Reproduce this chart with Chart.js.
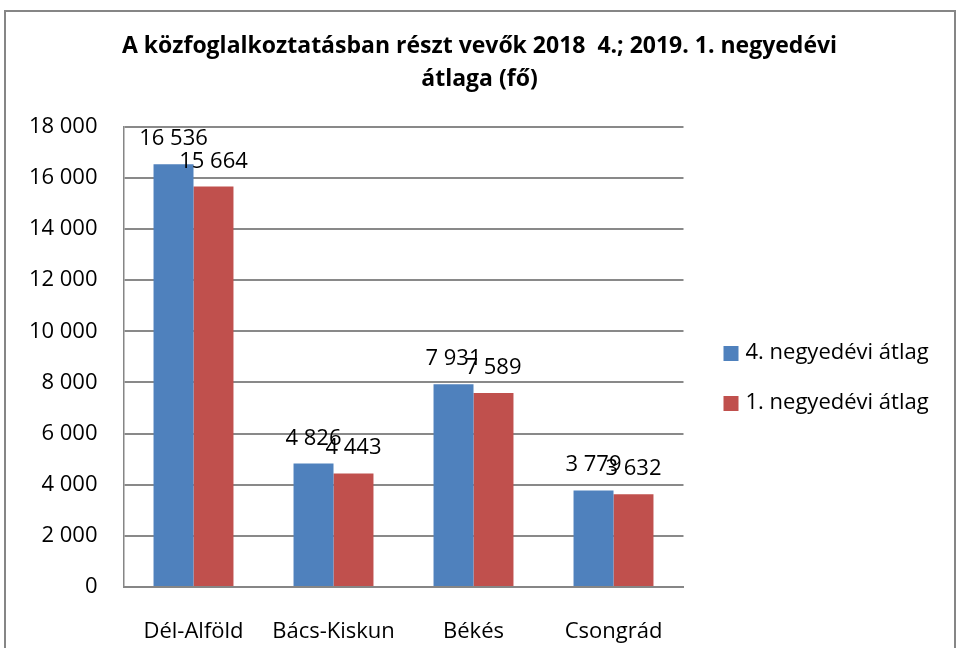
<!DOCTYPE html>
<html>
<head>
<meta charset="utf-8">
<script src="https://cdn.jsdelivr.net/npm/chart.js@4/dist/chart.umd.min.js"></script>
<style>
  body { margin: 0; background: #fff; }
  canvas { display: block; }
</style>
</head>
<body>
<canvas id="chart" width="959" height="648"></canvas>
<script>
const categories = ['Dél-Alföld', 'Bács-Kiskun', 'Békés', 'Csongrád'];
const q4Values = [16536, 4826, 7931, 3779];
const q1Values = [15664, 4443, 7589, 3632];
const seriesNames = ['4. negyedévi átlag', '1. negyedévi átlag'];
const titleLines = ['A közfoglalkoztatásban részt vevők 2018  4.; 2019. 1. negyedévi', 'átlaga (fő)'];

// 12345 -> "12 345"
function fmt(v){
  return String(v).replace(/\B(?=(\d{3})+(?!\d))/g, ' ');
}

const frame = {
  id: 'frame',
  beforeDraw(chart){
    const ctx = chart.ctx;
    ctx.save();
    ctx.strokeStyle = '#868686';
    ctx.lineWidth = 2;
    ctx.strokeRect(5, 11, 950, 640);
    ctx.restore();
  }
};

// value labels above each bar
const barLabels = {
  id: 'barLabels',
  afterDatasetsDraw(chart){
    const ctx = chart.ctx;
    ctx.save();
    ctx.font = '22px "Open Sans"';
    ctx.fillStyle = '#000';
    ctx.textAlign = 'center';
    ctx.textBaseline = 'alphabetic';
    chart.data.datasets.forEach((ds, i) => {
      chart.getDatasetMeta(i).data.forEach((bar, j) => {
        ctx.fillText(fmt(ds.data[j]), bar.x, bar.y - 19);
      });
    });
    ctx.restore();
  }
};

// legend on the right, drawn by hand so it sits where excel put it
const sideLegend = {
  id: 'sideLegend',
  afterDraw(chart){
    const ctx = chart.ctx;
    const x = chart.chartArea.right + 40;
    ctx.save();
    ctx.font = '22px "Open Sans"';
    ctx.textBaseline = 'middle';
    ctx.textAlign = 'left';
    chart.data.datasets.forEach((ds, i) => {
      const y = 353 + i * 50;
      ctx.fillStyle = ds.backgroundColor;
      ctx.fillRect(x, y - 7, 15, 15);
      ctx.fillStyle = '#000';
      ctx.fillText(ds.label, x + 22, y);
    });
    ctx.restore();
  }
};

new Chart(document.getElementById('chart'), {
  type: 'bar',
  data: {
    labels: categories,
    datasets: [
      { label: seriesNames[0], data: q4Values, backgroundColor: '#4F81BD' },
      { label: seriesNames[1], data: q1Values, backgroundColor: '#C0504D' }
    ]
  },
  options: {
    responsive: false,
    animation: false,
    categoryPercentage: 0.571,
    barPercentage: 1,
    layout: { padding: { top: 10, left: 0, right: 0, bottom: 0 } },
    plugins: {
      title: {
        display: true,
        text: titleLines,
        color: '#000',
        font: { family: 'Open Sans', size: 23, weight: 'bold', lineHeight: 1.43 },
        padding: { top: 20, bottom: 31 }
      },
      legend: { display: false },
      tooltip: { enabled: false }
    },
    scales: {
      x: {
        grid: { display: false },
        border: { display: true, color: '#868686', width: 2 },
        ticks: { color: '#000', font: { family: 'Open Sans', size: 22 }, padding: 24 },
        afterFit(scale){ scale.height = 61; }
      },
      y: {
        min: 0,
        max: 18000,
        ticks: {
          stepSize: 2000,
          color: '#000',
          font: { family: 'Open Sans', size: 22 },
          padding: 26,
          callback: v => fmt(v)
        },
        grid: { color: '#898989', lineWidth: 2, drawTicks: false },
        border: { display: true, color: '#868686', width: 1.5 },
        afterFit(scale){ scale.width = 123.5; }
      },
      // empty right axis: keeps room for the legend while the title stays centred on the whole chart
      legendSpace: {
        type: 'linear',
        position: 'right',
        grid: { display: false },
        border: { display: false },
        ticks: { display: false },
        afterFit(scale){ scale.width = 275.5; }
      }
    }
  },
  plugins: [frame, barLabels, sideLegend]
});
</script>
</body>
</html>
